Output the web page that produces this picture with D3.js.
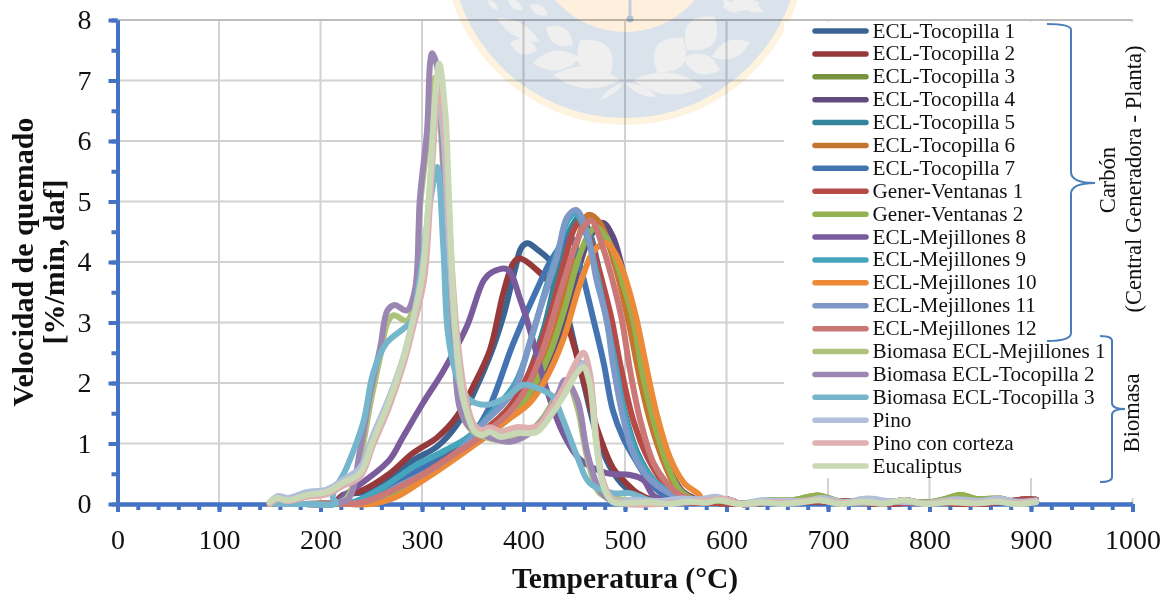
<!DOCTYPE html>
<html>
<head>
<meta charset="utf-8">
<script src="https://cdn.jsdelivr.net/npm/d3@7"></script>
<style>
  html, body { margin: 0; padding: 0; background: #fff; }
  svg { display: block; }
  text { font-family: "Liberation Serif", serif; fill: #111; }
</style>
</head>
<body>
<div id="container"></div>
<script>
let seriesNames = ["ECL-Tocopilla 1","ECL-Tocopilla 2","ECL-Tocopilla 3","ECL-Tocopilla 4","ECL-Tocopilla 5","ECL-Tocopilla 6","ECL-Tocopilla 7","Gener-Ventanas 1","Gener-Ventanas 2","ECL-Mejillones 8","ECL-Mejillones 9","ECL-Mejillones 10","ECL-Mejillones 11","ECL-Mejillones 12","Biomasa ECL-Mejillones 1","Biomasa ECL-Tocopilla 2","Biomasa ECL-Tocopilla 3","Pino","Pino con corteza","Eucaliptus"];
let seriesColors = ["#3b6493","#96393a","#77933c","#5f4b7e","#33859b","#c4762f","#4374b1","#b54a47","#93b24f","#7a5c9d","#45a5bd","#ed8a38","#7d99c8","#cb7775","#adc37b","#9c87b3","#76b6cd","#b1bfda","#deb0af","#cad9b5"];
let xTickLabels = [0,100,200,300,400,500,600,700,800,900,1000];
let yTickLabels = [0,1,2,3,4,5,6,7,8];

// start of the coal curves, flat on the axis
let headFlat = [[150,0.01],[185,0.0],[215,0.01]];

let tailLow = [[560,0.03],[580,0.06],[600,0.08],[615,0.0],[640,0.03],[665,0.02],[690,0.07],[710,0.02],[735,0.03],[755,0.01],[775,0.06],[795,0.01],[820,0.04],[845,0.02],[870,0.04],[885,0.01],[905,0.04]];
let tailRed = [[560,0.03],[585,0.02],[610,0.0],[640,0.02],[670,0.03],[695,0.04],[720,0.05],[750,0.0],[780,0.02],[810,0.02],[850,0.0],[880,0.05],[895,0.08],[905,0.07]];
let tailGreen = [[575,0.06],[600,0.04],[615,0.01],[640,0.06],[665,0.06],[690,0.14],[712,0.04],[740,0.02],[770,0.05],[800,0.03],[815,0.08],[830,0.15],[848,0.08],[870,0.09],[885,0.03],[905,0.04]];
let tailPino = [[510,0.07],[535,0.05],[555,0.09],[575,0.08],[590,0.12],[612,0.01],[635,0.06],[655,0.05],[680,0.06],[695,0.1],[715,0.03],[738,0.09],[760,0.05],[780,0.03],[800,0.02],[825,0.08],[850,0.05],[868,0.09],[885,0.04],[905,0.06]];
let tailEuc = [[505,0.02],[525,0.03],[545,0.0],[562,0.04],[580,0.02],[592,0.06],[612,0.0],[635,0.03],[655,0.0],[675,0.03],[692,0.06],[712,0.0],[735,0.04],[755,0.01],[775,0.06],[795,0.0],[820,0.03],[845,0.01],[865,0.04],[885,0.0],[905,0.03]];

let tocopilla1 = [[222,0.15],[245,0.2],[268,0.42],[291,0.72],[315,0.95],[334,1.3],[350,1.8],[367,2.45],[380,3.1],[392,3.9],[398,4.24],[404,4.31],[414,4.2],[428,3.98],[440,3.35],[450,2.65],[460,1.95],[472,1.15],[485,0.62],[500,0.28],[520,0.08],[540,0.03]];
let tocopilla2 = [[219,0.11],[242,0.23],[268,0.5],[291,0.84],[315,1.1],[334,1.44],[350,1.93],[367,2.55],[380,3.48],[390,3.98],[396,4.06],[413,3.87],[431,3.54],[446,2.83],[459,2.05],[472,1.27],[488,0.6],[502,0.33],[512,0.18],[530,0.05],[545,0.02]];
let tocopilla3 = [[240,0.02],[270,0.15],[300,0.42],[330,0.75],[360,1.1],[385,1.4],[405,1.78],[425,2.4],[440,3.15],[455,4.0],[465,4.42],[472,4.52],[485,4.25],[498,3.65],[508,3.05],[518,1.98],[528,1.4],[541,0.7],[554,0.25],[570,0.07]];
let tocopilla4 = [[240,0.0],[265,0.08],[300,0.42],[330,0.75],[360,1.08],[385,1.42],[405,1.75],[425,2.3],[440,3.05],[452,3.75],[465,4.4],[478,4.65],[488,4.42],[498,3.85],[510,3.0],[520,1.95],[530,1.25],[543,0.6],[556,0.22],[570,0.06]];
let tocopilla5 = [[235,0.03],[265,0.3],[295,0.58],[325,0.82],[350,1.05],[380,1.45],[400,1.95],[420,2.9],[435,3.95],[448,4.6],[456,4.75],[466,4.45],[478,3.5],[490,2.35],[500,1.5],[512,0.85],[528,0.4],[545,0.15],[560,0.05]];
let tocopilla6 = [[240,0.02],[270,0.16],[300,0.44],[330,0.76],[360,1.1],[385,1.42],[405,1.82],[425,2.55],[442,3.55],[455,4.45],[464,4.78],[475,4.65],[490,3.95],[503,3.05],[515,2.05],[526,1.3],[540,0.62],[552,0.24],[568,0.06]];
let tocopilla7 = [[235,0.03],[260,0.2],[290,0.5],[320,0.78],[345,1.05],[365,1.55],[390,2.66],[413,3.54],[429,4.08],[446,4.41],[455,3.98],[469,3.04],[479,2.33],[488,1.55],[498,1.1],[512,0.68],[525,0.35],[538,0.15],[555,0.04]];
let ventanas1 = [[240,0.02],[270,0.2],[300,0.48],[330,0.82],[360,1.2],[385,1.58],[405,2.15],[425,3.05],[440,4.0],[450,4.55],[457,4.7],[466,4.35],[478,3.65],[487,3.04],[495,2.33],[508,1.39],[522,0.78],[538,0.35],[555,0.1]];
let ventanas2 = [[240,0.02],[270,0.16],[300,0.42],[330,0.76],[360,1.1],[385,1.42],[405,1.8],[425,2.45],[440,3.2],[455,4.1],[465,4.48],[472,4.58],[485,4.3],[498,3.65],[508,3.05],[518,2.1],[528,1.39],[541,0.68],[554,0.23],[570,0.06]];
let mejillones8 = [[222,0.12],[242,0.36],[268,0.73],[281,1.1],[301,1.67],[321,2.2],[344,2.93],[361,3.7],[370,3.84],[384,3.88],[397,3.37],[410,2.66],[423,1.88],[439,1.17],[456,0.73],[482,0.51],[505,0.48],[518,0.4],[528,0.14],[542,0.05]];
let mejillones9 = [[232,0.03],[262,0.28],[292,0.62],[322,0.88],[345,1.1],[368,1.5],[392,2.0],[408,2.75],[420,3.45],[435,4.25],[444,4.7],[451,4.8],[462,4.45],[478,3.35],[490,2.35],[500,1.45],[512,0.8],[528,0.4],[545,0.18],[560,0.06]];
let mejillones10 = [[250,0.0],[275,0.12],[300,0.38],[330,0.72],[355,1.02],[380,1.34],[406,1.67],[423,2.1],[439,2.71],[456,3.65],[470,4.2],[482,4.31],[490,4.15],[498,3.85],[510,3.15],[520,2.35],[531,1.5],[544,0.78],[558,0.35],[574,0.12]];
let mejillones11 = [[240,0.03],[258,0.12],[275,0.28],[308,0.56],[340,0.94],[361,1.34],[380,1.65],[393,1.95],[406,2.66],[416,3.2],[433,4.08],[443,4.74],[452,4.86],[463,4.47],[472,3.7],[482,3.04],[488,2.33],[498,1.44],[508,0.84],[522,0.45],[538,0.23],[555,0.08]];
let mejillones12 = [[240,0.02],[268,0.2],[298,0.46],[330,0.8],[360,1.14],[388,1.55],[405,1.98],[419,2.55],[439,3.65],[453,4.36],[461,4.62],[467,4.68],[478,4.25],[490,3.55],[497,3.04],[505,2.21],[515,1.39],[528,0.68],[541,0.35],[554,0.15],[570,0.05]];
let biomasaM1 = [[226,0.1],[239,0.75],[249,1.65],[259,2.45],[266,3.0],[272,3.12],[285,3.03],[293,3.35],[298,4.9],[305,6.0],[309,6.9],[313,7.05],[318,6.3],[324,4.5],[331,2.7],[338,1.6],[347,1.25],[367,1.08],[387,1.06],[406,1.2],[419,1.42],[433,1.8],[443,2.0],[453,1.6],[463,0.75],[475,0.18],[488,0.1],[510,0.05]];
let biomasaT2 = [[228,0.1],[239,0.89],[249,1.83],[259,2.6],[266,3.2],[273,3.29],[285,3.2],[293,3.54],[298,5.07],[305,6.18],[308,7.29],[310,7.45],[315,7.22],[320,6.0],[325,4.4],[331,2.9],[337,1.6],[347,1.27],[367,1.1],[387,1.03],[406,1.17],[419,1.39],[433,1.77],[441,2.05],[453,1.72],[463,0.84],[475,0.23],[485,0.07],[500,0.02]];
let biomasaT3 = [[212,0.12],[226,0.61],[242,1.34],[252,2.17],[265,2.66],[282,2.9],[290,3.04],[298,3.75],[310,5.2],[315,5.57],[321,4.25],[325,2.9],[331,2.3],[337,2.0],[347,1.72],[364,1.64],[384,1.77],[400,1.97],[419,1.88],[429,1.77],[439,1.39],[453,0.78],[465,0.35],[488,0.18],[505,0.18],[525,0.06]];
let pino = [[150,0.03],[158,0.13],[168,0.1],[187,0.2],[206,0.24],[222,0.4],[239,0.6],[252,1.15],[268,1.78],[282,2.45],[291,3.05],[300,3.8],[308,5.3],[313,6.4],[316,6.7],[321,6.1],[326,4.5],[332,2.9],[340,1.75],[351,1.28],[359,1.17],[367,1.22],[377,1.15],[393,1.2],[413,1.24],[426,1.5],[439,1.82],[452,2.2],[459,2.33],[465,2.1],[472,1.0],[479,0.33],[490,0.06]];
let pinoCorteza = [[150,0.0],[158,0.08],[168,0.05],[187,0.12],[206,0.16],[222,0.3],[239,0.45],[252,0.98],[268,1.62],[282,2.32],[291,2.9],[302,3.7],[309,5.3],[314,6.6],[317,7.0],[322,6.2],[327,4.6],[334,2.9],[342,1.85],[351,1.32],[359,1.22],[367,1.27],[377,1.2],[393,1.27],[413,1.28],[426,1.55],[439,1.9],[452,2.35],[459,2.5],[465,2.2],[472,1.05],[479,0.35],[490,0.05]];
let eucaliptus = [[150,0.03],[157,0.1],[167,0.06],[187,0.15],[206,0.2],[222,0.35],[239,0.51],[252,1.06],[268,1.72],[282,2.43],[291,3.04],[300,3.75],[308,5.36],[313,6.73],[317,7.28],[323,6.46],[327,4.9],[333,2.83],[341,1.72],[351,1.22],[359,1.14],[367,1.19],[377,1.11],[393,1.17],[413,1.19],[426,1.44],[439,1.77],[453,2.17],[459,2.26],[465,2.0],[472,0.94],[479,0.28],[488,0.03]];

let seriesValues = [
  headFlat.concat(tocopilla1, tailRed),
  headFlat.concat(tocopilla2, tailRed),
  headFlat.concat(tocopilla3, tailGreen),
  headFlat.concat(tocopilla4, tailLow),
  headFlat.concat(tocopilla5, tailLow),
  headFlat.concat(tocopilla6, tailLow),
  headFlat.concat(tocopilla7, tailLow),
  headFlat.concat(ventanas1, tailRed),
  headFlat.concat(ventanas2, tailGreen),
  headFlat.concat(mejillones8, tailLow),
  headFlat.concat(mejillones9, tailLow),
  headFlat.concat(mejillones10, tailLow),
  headFlat.concat(mejillones11, tailLow),
  headFlat.concat(mejillones12, tailLow),
  headFlat.concat(biomasaM1, tailLow),
  headFlat.concat(biomasaT2, tailLow),
  headFlat.concat(biomasaT3, tailLow),
  pino.concat(tailPino),
  pinoCorteza.concat(tailLow),
  eucaliptus.concat(tailEuc)
];

let w = 1166;
let h = 594;
let axisBlue = "#4472c4";

let viz = d3.select("#container")
  .append("svg")
    .attr("width", w)
    .attr("height", h)
;

let xScale = d3.scaleLinear().domain([0, 1000]).range([117.5, 1132.5]);
let yScale = d3.scaleLinear().domain([0, 8]).range([504, 20]);

// faded university crest behind the chart
let crest = viz.append("g").attr("class", "crest");
crest.append("circle").attr("cx", 625).attr("cy", -57).attr("r", 182).attr("fill", "#fef3df");
crest.append("circle").attr("cx", 625).attr("cy", -57).attr("r", 175).attr("fill", "#dae2ec");
crest.append("circle").attr("cx", 625).attr("cy", -60).attr("r", 92).attr("fill", "#fef0dc");
crest.append("line").attr("x1", 630).attr("y1", 0).attr("x2", 630).attr("y2", 19).attr("stroke", "#c3cfdc").attr("stroke-width", 3);
crest.append("circle").attr("cx", 630).attr("cy", 19).attr("r", 3.5).attr("fill", "#b4c2d2");

// leaves: start x,y, end x,y, bulge
let leaves = [
  [553,75,620,80,22],[580,40,610,77,34],[533,63,580,58,20],[546,27,573,45,18],[510,43,537,50,16],[497,18,540,42,14],[530,5,548,15,10],
  [633,80,703,87,22],[657,72,683,38,32],[683,58,720,70,20],[687,50,715,17,32],[712,57,750,42,18],[722,7,760,3,12],
  [600,100,623,83,6],[625,83,657,97,8],[488,0,498,10,6],[508,0,523,10,8],[723,0,737,13,8],[738,0,763,12,10]
];
crest.selectAll(".leaf").data(leaves).enter()
  .append("path")
    .attr("class", "leaf")
    .attr("fill", "#efefef")
    .attr("d", function(d){
      let mx = (d[0]+d[2])/2, my = (d[1]+d[3])/2;
      let dx = d[2]-d[0], dy = d[3]-d[1];
      let len = Math.sqrt(dx*dx+dy*dy);
      let nx = -dy/len*d[4], ny = dx/len*d[4];
      return "M"+d[0]+","+d[1]+"Q"+(mx+nx)+","+(my+ny)+" "+d[2]+","+d[3]+"Q"+(mx-nx)+","+(my-ny)+" "+d[0]+","+d[1]+"Z";
    })
;

// gridlines, multiplied so the crest shows through
let grid = viz.append("g").attr("class", "grid").style("mix-blend-mode", "multiply");
grid.selectAll(".gx").data(xTickLabels.slice(1)).enter()
  .append("line")
    .attr("x1", function(d){ return xScale(d) })
    .attr("x2", function(d){ return xScale(d) })
    .attr("y1", yScale(8))
    .attr("y2", yScale(0))
    .attr("stroke", "#d2d2d2")
    .attr("stroke-width", 2)
;
grid.selectAll(".gy").data(yTickLabels.slice(1)).enter()
  .append("line")
    .attr("x1", xScale(0))
    .attr("x2", xScale(1000))
    .attr("y1", function(d){ return yScale(d) })
    .attr("y2", function(d){ return yScale(d) })
    .attr("stroke", function(d){ return d == 8 ? "#bdbdbd" : "#d2d2d2" })
    .attr("stroke-width", 2)
;

// white box of the legend hides the grid on the right
viz.append("rect").attr("x", 784).attr("y", 21.5).attr("width", 350).attr("height", 456.5).attr("fill", "#fff");
viz.append("rect").attr("x", 1060).attr("y", 478).attr("width", 74).attr("height", 20).attr("fill", "#fff");

// axes: minor ticks first, then major ticks with labels
let xMinor = d3.axisBottom(xScale).tickValues(d3.range(0, 1001, 20)).tickSize(6).tickFormat("");
let yMinor = d3.axisLeft(yScale).tickValues(d3.range(0, 8.1, 0.5)).tickSize(6).tickFormat("");
let xAxis = d3.axisBottom(xScale).tickValues(xTickLabels).tickSize(8).tickPadding(17).tickFormat(d3.format("d"));
let yAxis = d3.axisLeft(yScale).tickValues(yTickLabels).tickSize(9).tickPadding(17).tickFormat(d3.format("d"));

function styleAxis(group){
  group.selectAll("path").attr("stroke", axisBlue).attr("stroke-width", 4);
  group.selectAll("line").attr("stroke", axisBlue).attr("stroke-width", 4);
  group.selectAll("text").attr("font-family", "Liberation Serif").attr("font-size", 28).attr("fill", "#111");
}
[xMinor, xAxis].forEach(function(a){
  viz.append("g").attr("class", "xaxisgroup").attr("transform", "translate(0,504)").call(a.tickSizeOuter(0)).call(styleAxis);
});
[yMinor, yAxis].forEach(function(a){
  viz.append("g").attr("class", "yaxisgroup").attr("transform", "translate(117.5,0)").call(a.tickSizeOuter(0)).call(styleAxis);
});

let lineMaker = d3.line()
  .x(function(d){ return xScale(d[0]) })
  .y(function(d){ return yScale(d[1]) })
  .curve(d3.curveCatmullRom.alpha(0.5))
;

viz.append("g").attr("class", "graphGroup").selectAll(".line").data(seriesValues).enter()
  .append("path")
    .attr("class", "line")
    .attr("d", lineMaker)
    .attr("fill", "none")
    .attr("stroke", function(d, i){ return seriesColors[i] })
    .attr("stroke-width", 6)
    .attr("stroke-linecap", "round")
    .attr("stroke-linejoin", "round")
;

// legend
let legendY = d3.scalePoint().domain(seriesNames).range([31, 466]);
let legend = viz.append("g").attr("class", "legend");
legend.selectAll(".key").data(seriesNames).enter()
  .append("line")
    .attr("x1", 815)
    .attr("x2", 866)
    .attr("y1", function(d){ return legendY(d) })
    .attr("y2", function(d){ return legendY(d) })
    .attr("stroke", function(d, i){ return seriesColors[i] })
    .attr("stroke-width", 5.5)
    .attr("stroke-linecap", "round")
;
legend.selectAll(".name").data(seriesNames).enter()
  .append("text")
    .attr("x", 872.5)
    .attr("y", function(d){ return legendY(d) + 6.5 })
    .attr("font-size", 21.2)
    .text(function(d){ return d })
;

// axis titles
viz.append("text")
  .attr("x", 625).attr("y", 588)
  .attr("text-anchor", "middle").attr("font-size", 29.5).attr("font-weight", "bold")
  .text("Temperatura (°C)");
viz.append("text")
  .attr("transform", "translate(33,262) rotate(-90)")
  .attr("text-anchor", "middle").attr("font-size", 30).attr("font-weight", "bold")
  .text("Velocidad de quemado");
viz.append("text")
  .attr("transform", "translate(64,262) rotate(-90)")
  .attr("text-anchor", "middle").attr("font-size", 30).attr("font-weight", "bold")
  .text("[%/min, daf]");

// braces and their labels
let braces = viz.append("g").attr("fill", "none").attr("stroke", "#4a7ebb").attr("stroke-width", 2);
braces.append("path").attr("d", "M1047,24Q1071,24 1071,30L1071,172Q1071,183 1095,183Q1071,183 1071,194L1071,333Q1071,341 1047,341");
braces.append("path").attr("d", "M1100,336Q1112,336 1112,341L1112,403Q1112,409 1125,409Q1112,409 1112,415L1112,477Q1112,482 1100,482");

function sideLabel(x, y, label){
  viz.append("text")
    .attr("transform", "translate("+x+","+y+") rotate(-90)")
    .attr("text-anchor", "middle").attr("font-size", 22.5)
    .text(label);
}
sideLabel(1115, 180, "Carbón");
sideLabel(1141, 179, "(Central Generadora - Planta)");
sideLabel(1139, 413, "Biomasa");
</script>
</body>
</html>
